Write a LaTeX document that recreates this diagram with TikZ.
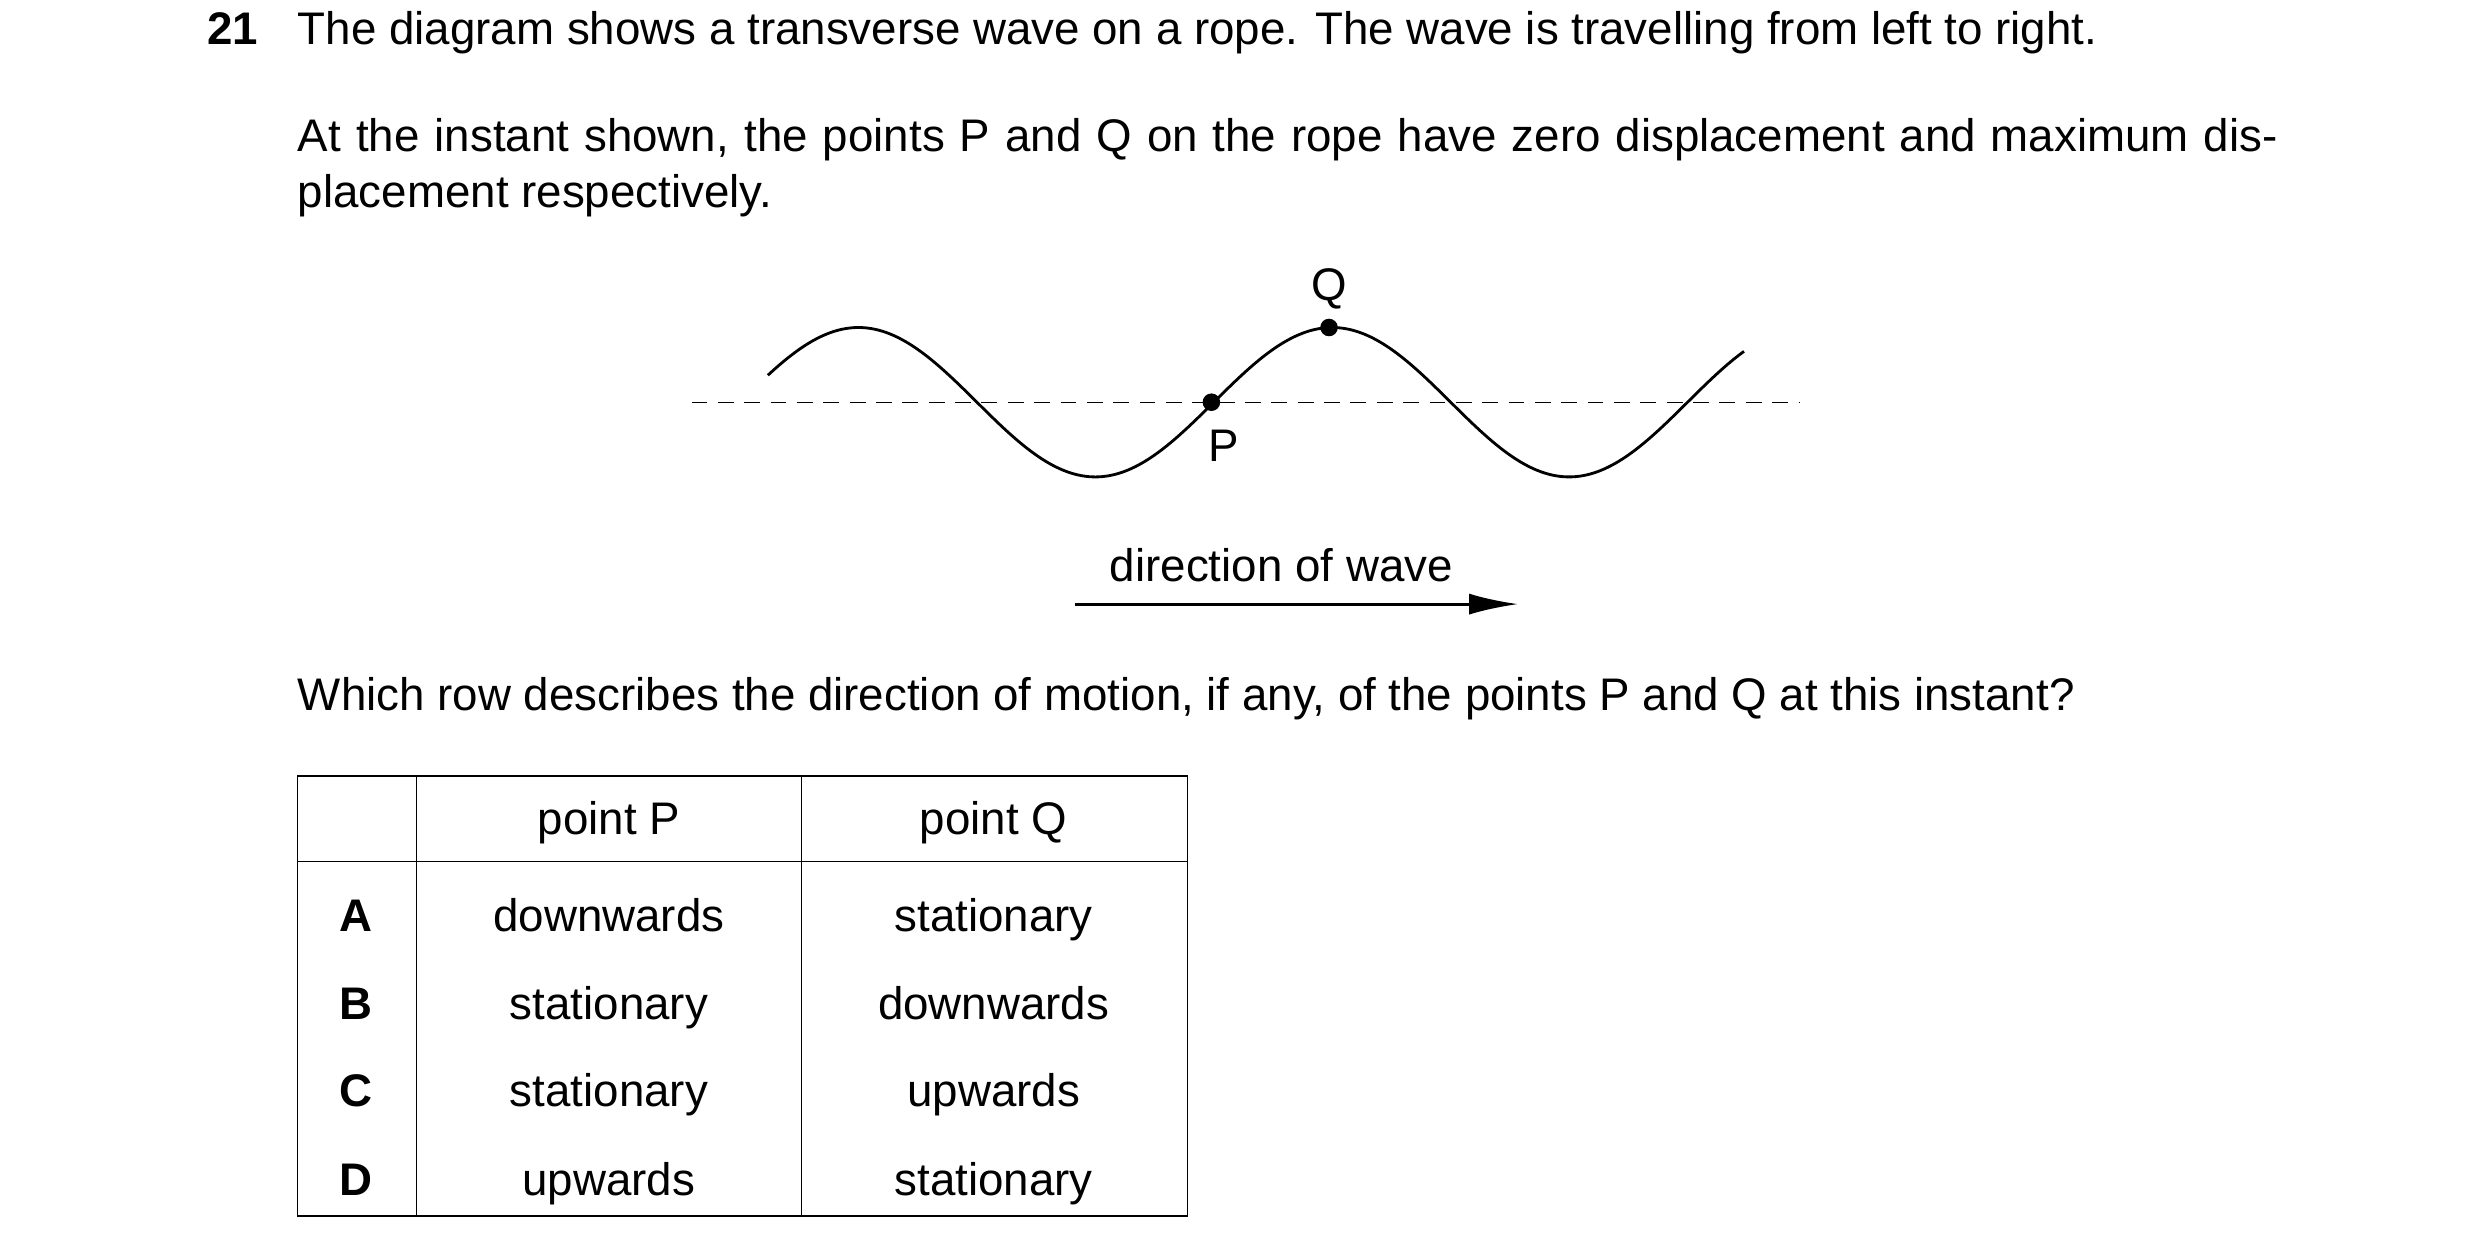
\documentclass[tikz,border=0pt]{standalone}
\usepackage{fontspec}
\setmainfont{Liberation Sans}
\usetikzlibrary{arrows.meta}

\begin{document}
\begin{tikzpicture}[x=0.0159cm,y=-0.0159cm,
  txt/.style={font=\fontsize{13}{16}\selectfont, inner sep=0pt},
  axis/.style={dashed, dash pattern=on 4.5pt off 3pt},
  dot/.style={circle, fill, inner sep=0pt, minimum size=5pt}]
\useasboundingbox (0,0) rectangle (1560,786);
%----------question text------------------------
\node[txt, anchor=base west, font=\fontsize{13}{16}\selectfont\bfseries] (num) at (130,28) {21};
\node[txt, anchor=base west] (l1) at (187,28) {The diagram shows a transverse wave on a rope. The wave is travelling from left to right.};
\node[txt, anchor=north west, text width=19.8cm, align=justify] (l2) at (187,74)
  {At the instant shown, the points P and Q on the rope have zero displacement and maximum displacement respectively.};
%----------wave---------------------------------
\coordinate (axl) at (435,253);
\coordinate (axr) at (1132,253);
\draw[axis] (axl) -- (axr);
\draw[thick, domain=-57:557, samples=150, smooth]
  plot ({540+\x}, {253-47*cos(\x/298*360)});
\node[dot] (P) at (762,253) {};
\node[dot] (Q) at (836,206) {};
\node[txt, anchor=north] (Plab) at (770,270) {P};
\node[txt, anchor=south] (Qlab) at (836,195) {Q};
%----------direction----------------------------
\coordinate (arrl) at (676,380);
\coordinate (arrr) at (955,380);
\draw[thick, -{Latex[length=14pt,width=6pt]}] (arrl) -- (arrr);
\node[txt, anchor=base] (dir) at (806,366) {direction of wave};
%----------question-----------------------------
\node[txt, anchor=base west] (l3) at (187,447) {Which row describes the direction of motion, if any, of the points P and Q at this instant?};
%----------table--------------------------------
\draw (187,488) rectangle (747,765);
\draw (262,488) -- (262,765);
\draw (504,488) -- (504,765);
\draw (187,542) -- (747,542);
\node[txt, anchor=base] (hP) at (383,525) {point P};
\node[txt, anchor=base] (hQ) at (625,525) {point Q};
\foreach \y/\l/\p/\q in {586/A/downwards/stationary, 641/B/stationary/downwards,
                         696/C/stationary/upwards, 752/D/upwards/stationary}{
  \node[txt, anchor=base, font=\fontsize{13}{16}\selectfont\bfseries] (r\l) at (224,\y) {\l};
  \node[txt, anchor=base] (p\l) at (383,\y) {\p};
  \node[txt, anchor=base] (q\l) at (625,\y) {\q};
}
\end{tikzpicture}
\end{document}
